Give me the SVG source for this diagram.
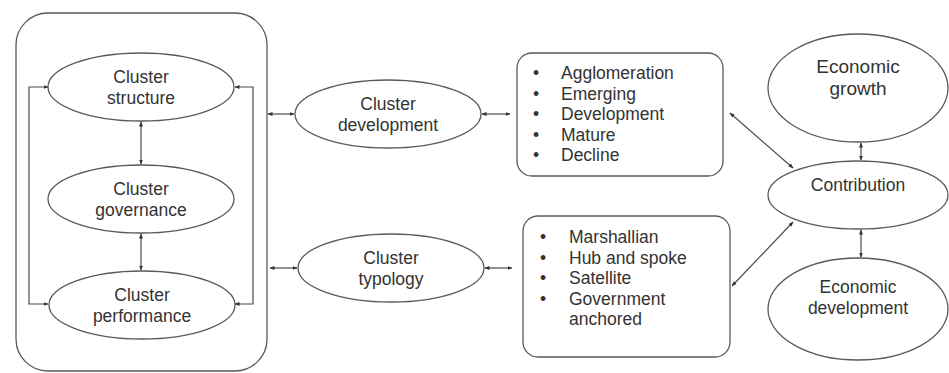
<svg xmlns="http://www.w3.org/2000/svg" width="949" height="373" viewBox="0 0 949 373">
  <style>
    .shape { fill: #ffffff; stroke: #5a5a5a; stroke-width: 1.3; }
    .link { fill: none; stroke: #4a4a4a; stroke-width: 1.2; }
    text { font-family: "Liberation Sans", Arial, sans-serif; font-size: 17.5px; fill: #333333; }
    .mid { text-anchor: middle; }
    .big { font-size: 19px; }
  </style>
  <defs>
    <marker id="head" viewBox="0 0 10 10" refX="9" refY="5" markerWidth="5" markerHeight="5" orient="auto-start-reverse" markerUnits="userSpaceOnUse">
      <path d="M0,1 L10,5 L0,9 z" fill="#333333"/>
    </marker>
  </defs>
  <rect width="949" height="373" fill="#ffffff"/>

  <g id="cluster-frame">
    <rect class="shape" x="16" y="13" width="251" height="358" rx="32"/>
  </g>

  <g id="cluster-structure">
    <ellipse class="shape" cx="141" cy="87" rx="93" ry="34"/>
    <text class="mid" x="141" y="83">Cluster</text>
    <text class="mid" x="141" y="103.5">structure</text>
  </g>
  <g id="cluster-governance">
    <ellipse class="shape" cx="141" cy="199" rx="93" ry="34"/>
    <text class="mid" x="141" y="195">Cluster</text>
    <text class="mid" x="141" y="215.5">governance</text>
  </g>
  <g id="cluster-performance">
    <ellipse class="shape" cx="142" cy="305" rx="93" ry="34"/>
    <text class="mid" x="142" y="301">Cluster</text>
    <text class="mid" x="142" y="321.5">performance</text>
  </g>

  <g id="cluster-development">
    <ellipse class="shape" cx="388" cy="114" rx="93" ry="34"/>
    <text class="mid" x="388" y="110">Cluster</text>
    <text class="mid" x="388" y="130.5">development</text>
  </g>
  <g id="cluster-typology">
    <ellipse class="shape" cx="391" cy="268" rx="93" ry="34"/>
    <text class="mid" x="391" y="264">Cluster</text>
    <text class="mid" x="391" y="284.5">typology</text>
  </g>

  <g id="development-stages">
    <rect class="shape" x="517" y="53" width="206" height="123" rx="15"/>
    <text x="533" y="79">•</text><text x="561" y="79">Agglomeration</text>
    <text x="533" y="99.5">•</text><text x="561" y="99.5">Emerging</text>
    <text x="533" y="120">•</text><text x="561" y="120">Development</text>
    <text x="533" y="140.5">•</text><text x="561" y="140.5">Mature</text>
    <text x="533" y="161">•</text><text x="561" y="161">Decline</text>
  </g>
  <g id="typology-types">
    <rect class="shape" x="523" y="216" width="207" height="141" rx="15"/>
    <text x="540" y="243">•</text><text x="569" y="243">Marshallian</text>
    <text x="540" y="263.5">•</text><text x="569" y="263.5">Hub and spoke</text>
    <text x="540" y="284">•</text><text x="569" y="284">Satellite</text>
    <text x="540" y="304.5">•</text><text x="569" y="304.5">Government</text>
    <text x="569" y="325">anchored</text>
  </g>

  <g id="economic-growth">
    <ellipse class="shape" cx="858" cy="88" rx="90" ry="54"/>
    <text class="mid big" x="858" y="73">Economic</text>
    <text class="mid big" x="858" y="95">growth</text>
  </g>
  <g id="contribution">
    <ellipse class="shape" cx="858" cy="195" rx="90" ry="34"/>
    <text class="mid" x="858" y="191">Contribution</text>
  </g>
  <g id="economic-development">
    <ellipse class="shape" cx="858" cy="309" rx="90" ry="51"/>
    <text class="mid" x="858" y="293">Economic</text>
    <text class="mid" x="858" y="313.5">development</text>
  </g>

  <g id="connectors">
    <!-- loop on the left and right sides of the cluster frame -->
    <path class="link" d="M48,87 H29 V304 H48" marker-start="url(#head)" marker-end="url(#head)"/>
    <path class="link" d="M235,87 H253 V304 H235" marker-start="url(#head)" marker-end="url(#head)"/>
    <!-- vertical links between inner ellipses -->
    <line class="link" x1="141" y1="122" x2="141" y2="164" marker-start="url(#head)" marker-end="url(#head)"/>
    <line class="link" x1="141" y1="234" x2="141" y2="270" marker-start="url(#head)" marker-end="url(#head)"/>
    <!-- frame to middle ellipses -->
    <line class="link" x1="268" y1="114" x2="294" y2="114" marker-start="url(#head)" marker-end="url(#head)"/>
    <line class="link" x1="270" y1="268" x2="297" y2="268" marker-start="url(#head)" marker-end="url(#head)"/>
    <!-- middle ellipses to lists -->
    <line class="link" x1="482" y1="114" x2="510" y2="114" marker-start="url(#head)" marker-end="url(#head)"/>
    <line class="link" x1="485" y1="268" x2="512" y2="268" marker-start="url(#head)" marker-end="url(#head)"/>
    <!-- lists to contribution -->
    <line class="link" x1="730" y1="113" x2="793" y2="168" marker-start="url(#head)" marker-end="url(#head)"/>
    <line class="link" x1="732" y1="286" x2="793" y2="222" marker-start="url(#head)" marker-end="url(#head)"/>
    <!-- contribution to outcomes -->
    <line class="link" x1="861" y1="143" x2="861" y2="160" marker-start="url(#head)" marker-end="url(#head)"/>
    <line class="link" x1="861" y1="230" x2="861" y2="257" marker-start="url(#head)" marker-end="url(#head)"/>
  </g>
</svg>
